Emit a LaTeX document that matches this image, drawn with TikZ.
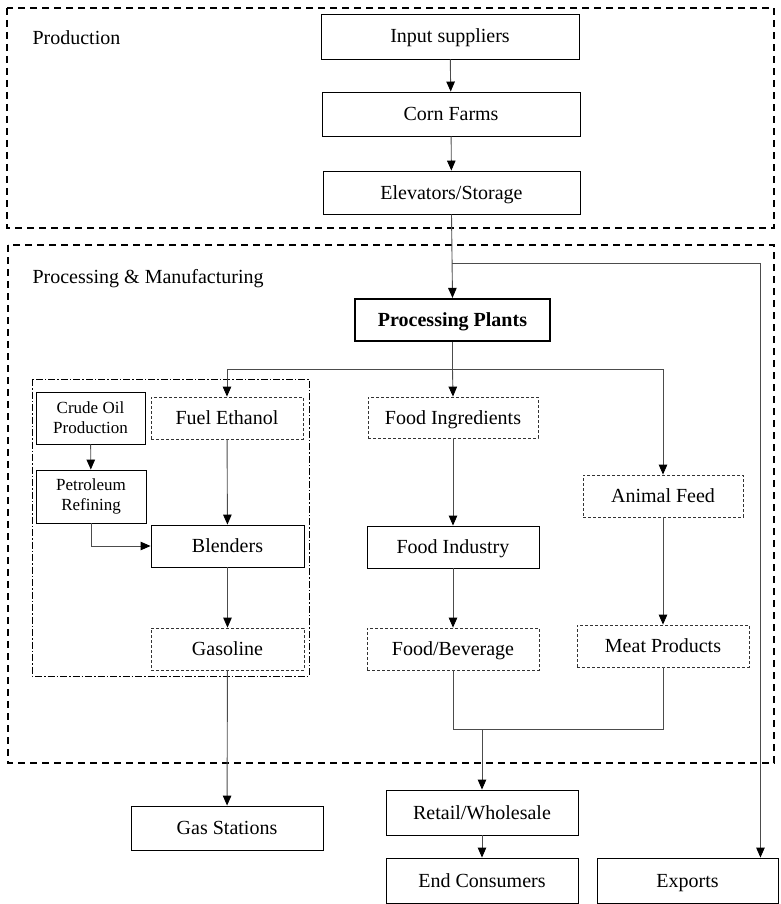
\documentclass[tikz,border=0pt]{standalone}
\usepackage{fontspec}
\setmainfont{Liberation Serif}
\usetikzlibrary{arrows.meta,calc}
\begin{document}
\begin{tikzpicture}[x=1pt,y=-1pt,
  every node/.style={font=\fontsize{20}{23}\selectfont},
  box/.style={draw, line width=0.9pt, inner sep=0pt, align=center, text height=15.5pt, text depth=2.5pt},
  dbox/.style={box, line width=0.8pt, draw=black!80, dash pattern=on 3pt off 2pt},
  bigbox/.style={draw, line width=1.8pt, dash pattern=on 7pt off 5pt},
  ddbox/.style={draw, line width=0.8pt, dash pattern=on 7pt off 2pt on 1.5pt off 2pt},
  conn/.style={draw=black!70, line width=0.9pt},
  arr/.style={conn, -{Triangle[length=10pt,width=8.5pt,fill=black,color=black]}},
  small/.style={font=\fontsize{17}{20}\selectfont, text height=, text depth=}
]
\useasboundingbox (0,0) rectangle (780,904);
% group frames
\draw[bigbox] (7,8) rectangle (774,228);
\draw[bigbox] (8,245) rectangle (774,763);
\draw[ddbox] (32,379) rectangle (309,676);
\node[anchor=west] (lprod) at (29,38) {Production};
\node[anchor=west] (lproc) at (29,279) {Processing \& Manufacturing};
% production
\node[box, minimum width=258, minimum height=45] (input) at (450,36.5) {Input suppliers};
\node[box, minimum width=258, minimum height=44] (corn) at (451,114) {Corn Farms};
\node[box, minimum width=257, minimum height=43] (elev) at (451.5,192.5) {Elevators/Storage};
% processing
\node[box, line width=2.2pt, minimum width=195, minimum height=42, font=\fontsize{20}{23}\selectfont\bfseries] (plants) at (452.5,320) {Processing Plants};
\node[box, small, minimum width=109, minimum height=52] (crude) at (90.5,418) {Crude Oil\\Production};
\node[dbox, minimum width=152, minimum height=42] (fuel) at (227,418) {Fuel Ethanol};
\node[box, small, minimum width=110, minimum height=53] (petro) at (91,496.5) {Petroleum\\Refining};
\node[box, minimum width=153, minimum height=42] (blend) at (227.5,546) {Blenders};
\node[dbox, minimum width=153, minimum height=42] (gasoline) at (227.5,649) {Gasoline};
\node[dbox, minimum width=170, minimum height=41] (foodingr) at (453,417.5) {Food Ingredients};
\node[box, minimum width=172, minimum height=42] (foodind) at (453,547) {Food Industry};
\node[dbox, minimum width=172, minimum height=42] (foodbev) at (453,649) {Food/Beverage};
\node[dbox, minimum width=160, minimum height=42] (feed) at (663,496) {Animal Feed};
\node[dbox, minimum width=172, minimum height=42] (meat) at (663,646) {Meat Products};
% outputs
\node[box, minimum width=192, minimum height=44] (gasst) at (227,828) {Gas Stations};
\node[box, minimum width=192, minimum height=45] (retail) at (482,812.5) {Retail/Wholesale};
\node[box, minimum width=192, minimum height=45] (endc) at (482,880.5) {End Consumers};
\node[box, minimum width=181, minimum height=45] (exports) at (687.5,880.5) {Exports};
% connectors
\draw[arr] (input) -- (corn);
\draw[arr] (corn) -- (elev);
\draw[arr] (elev.south) -- (plants.north);
\coordinate (eb) at (452,263);
\draw[arr] (eb) -| ([xshift=-18pt]exports.north east);
\coordinate (pb) at (452.5,369);
\draw[conn] (plants.south) -- (pb);
\draw[arr] (pb) -| (fuel.north);
\draw[arr] (pb) -| (feed.north);
\draw[arr] (pb) -- (foodingr.north);
\draw[arr] (crude) -- (petro);
\draw[arr] (petro.south) |- (blend.west);
\draw[arr] (fuel) -- (blend);
\draw[arr] (blend) -- (gasoline);
\draw[arr] (gasoline) -- (gasst);
\draw[arr] (foodingr) -- (foodind);
\draw[arr] (foodind) -- (foodbev);
\draw[arr] (feed) -- (meat);
\coordinate (mg) at (482,729);
\draw[conn] (foodbev.south) |- (meat.south |- mg) -- (meat.south);
\draw[arr] (mg) -- (retail.north);
\draw[arr] (retail) -- (endc);
\end{tikzpicture}
\end{document}
